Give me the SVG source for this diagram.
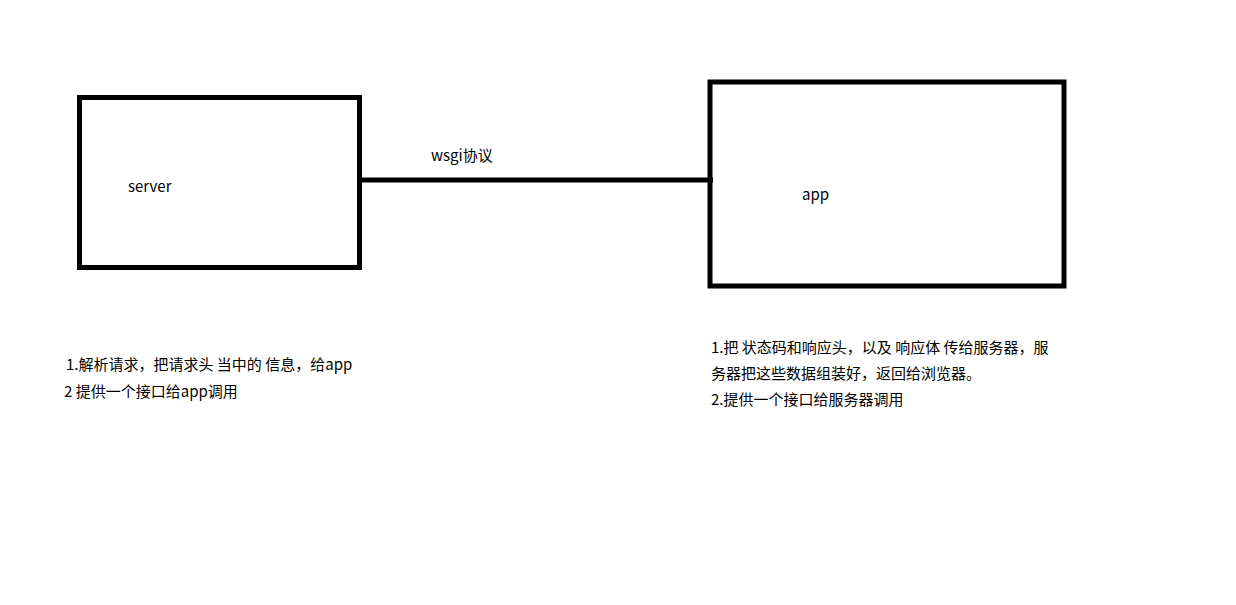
<svg xmlns="http://www.w3.org/2000/svg" width="1236" height="605" viewBox="0 0 1236 605">
<style>
.box{fill:none;stroke:#000;stroke-width:5}
.conn{stroke:#000;stroke-width:5;fill:none}
text{font-family:"Microsoft YaHei","Noto Sans CJK SC",sans-serif;font-size:15px;fill:#000}
</style>
<rect width="1236" height="605" fill="#fff"/>
<g id="connectors">
<line class="conn" x1="362" y1="180" x2="713" y2="180"/>
<text x="431" y="161">wsgi协议</text>
</g>
<g id="server">
<rect class="box" x="79.5" y="97.5" width="280" height="170"/>
<text x="128" y="192">server</text>
</g>
<g id="app">
<rect class="box" x="710" y="82" width="354" height="204"/>
<text x="802" y="200">app</text>
</g>
<g id="server-notes">
<text x="66" y="370">1.解析请求，把请求头 当中的 信息，给app</text>
<text x="64" y="397">2 提供一个接口给app调用</text>
</g>
<g id="app-notes">
<text x="711" y="353">1.把 状态码和响应头，以及 响应体 传给服务器，服</text>
<text x="711" y="379">务器把这些数据组装好，返回给浏览器。</text>
<text x="711" y="405">2.提供一个接口给服务器调用</text>
</g>
</svg>
